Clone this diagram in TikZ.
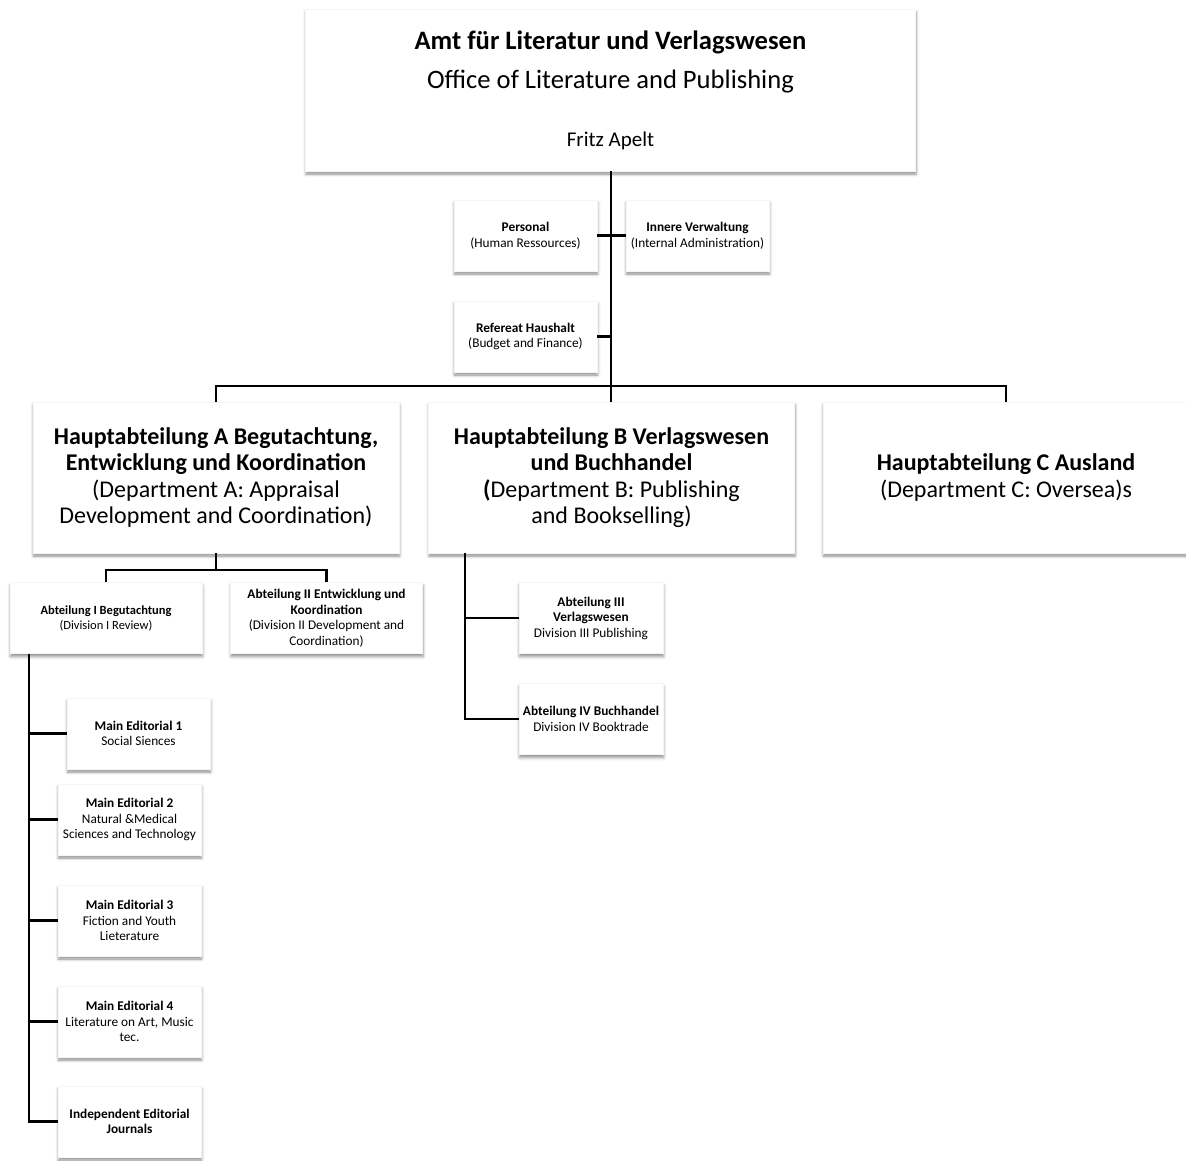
\documentclass[tikz,border=0pt]{standalone}
\usepackage{fontspec}
\setmainfont{Carlito}
\usetikzlibrary{shadows.blur}
\tikzset{box/.style={fill=white, draw=black!4, inner sep=0pt, align=center,
         font=\fontsize{13.3}{15.5}\selectfont, minimum width=#1, minimum height=71pt,
         blur shadow={shadow xshift=0.5pt, shadow yshift=-3pt,
                      shadow blur radius=3pt, shadow opacity=45}},
         box/.default={143pt},
         dept/.style={box=366pt, minimum height=151pt, font=\fontsize{24}{26.5}\selectfont},
         link/.style={draw, line width=2.2pt}}

\begin{document}
\begin{tikzpicture}[x=1pt,y=-1pt]
  \useasboundingbox (0,0) rectangle (1186,1160);

  \node[box=610pt, minimum height=162pt, font=\fontsize{26.6}{39}\selectfont] (amt) at (610.5,90)
    {{\bfseries Amt für Literatur und Verlagswesen}\\Office of Literature and Publishing\\[19pt]{\fontsize{21}{39}\selectfont Fritz Apelt}};

  \node[box] (pers) at (525.5,235.5) {\textbf{Personal}\\(Human Ressources)};
  \node[box] (innen) at (697.5,235.5) {\textbf{Innere Verwaltung}\\(Internal Administration)};
  \node[box] (haus) at (525.5,336.5) {\textbf{Refereat Haushalt}\\(Budget and Finance)};

  \node[dept] (depA) at (216,477.5) {{\bfseries Hauptabteilung A Begutachtung,}\\{\bfseries Entwicklung und Koordination}\\(Department A: Appraisal\\Development and Coordination)};
  \node[dept] (depB) at (611.5,477.5) {{\bfseries Hauptabteilung B Verlagswesen}\\{\bfseries und Buchhandel}\\{\bfseries (}Department B: Publishing\\and Bookselling)};
  \node[dept] (depC) at (1006,477.5) {{\bfseries Hauptabteilung C Ausland}\\(Department C: Oversea)s};

  \node[box=192pt, font=\fontsize{12.5}{15}\selectfont] (div1) at (106,618) {\textbf{Abteilung I Begutachtung}\\(Division I Review)};
  \node[box=192pt] (div2) at (326.5,618) {\textbf{Abteilung II Entwicklung und}\\\textbf{Koordination}\\(Division II Development and\\Coordination)};
  \node[box=144pt] (div3) at (591,618) {\textbf{Abteilung III}\\\textbf{Verlagswesen}\\Division III Publishing};
  \node[box=144pt] (div4) at (591,719) {\textbf{Abteilung IV Buchhandel}\\Division IV Booktrade};

  \node[box] (ed1) at (138.5,733.5) {\textbf{Main Editorial 1}\\Social Siences};
  \node[box] (ed2) at (129.5,819.5) {\textbf{Main Editorial 2}\\Natural \&Medical\\Sciences and Technology};
  \node[box] (ed3) at (129.5,920.5) {\textbf{Main Editorial 3}\\Fiction and Youth\\Lieterature};
  \node[box] (ed4) at (129.5,1021.5) {\textbf{Main Editorial 4}\\Literature on Art, Music\\tec.};
  \node[box] (indep) at (129.5,1121.5) {\textbf{Independent Editorial}\\\textbf{Journals}};

  \coordinate (bus) at (611,386);
  \coordinate (busA) at (216,570);
  \draw[link] (amt.south -| bus) -- (bus) -- (depB.north -| bus);
  \draw[link] (depA.north) |- (bus) -| (depC.north);
  \draw[link] (pers.east) -- (innen.west) (haus.east) -- (haus.east -| bus);
  \draw[link] (depA.south) -- (busA) (div1.north) |- (busA) -| (div2.north);

  \path (div1.south west) ++(19.5,0) coordinate (spineA);
  \draw[link] (spineA) |- (indep.west);
  \foreach \n in {ed1,ed2,ed3,ed4} \draw[link] (\n.west) -- (\n.west -| spineA);

  \path (depB.south west) ++(37,0) coordinate (spineB);
  \draw[link] (spineB) |- (div4.west) (div3.west) -- (div3.west -| spineB);
\end{tikzpicture}
\end{document}
